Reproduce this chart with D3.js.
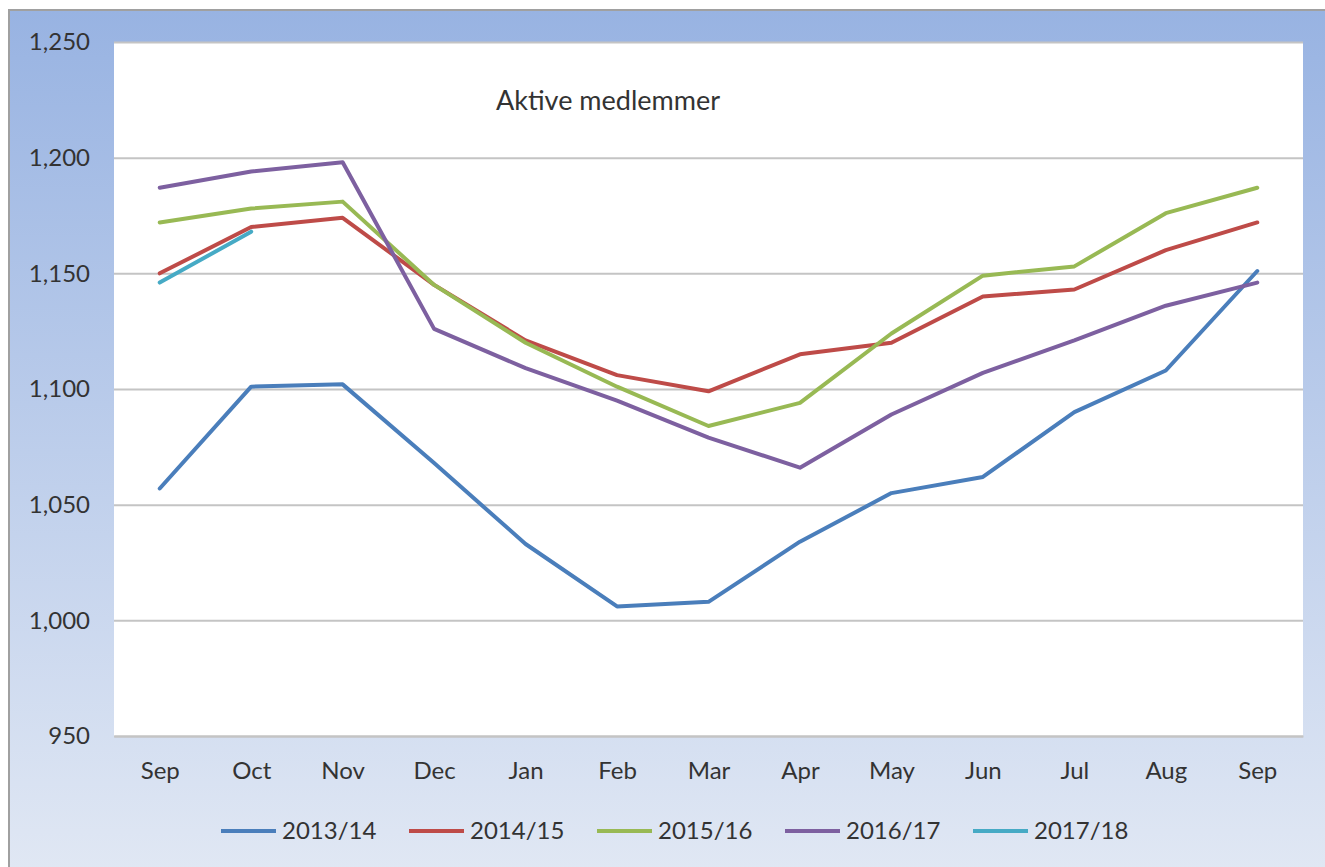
<!DOCTYPE html>
<html>
<head>
<meta charset="utf-8">
<script src="https://cdn.jsdelivr.net/npm/d3@7"></script>
<style>
  body { margin: 0; background: #fff; }
  svg text { font-family: Lato, "Open Sans", sans-serif; fill: #333; }
</style>
</head>
<body>
<svg id="chart"></svg>
<script>
var months = ["Sep", "Oct", "Nov", "Dec", "Jan", "Feb", "Mar", "Apr", "May", "Jun", "Jul", "Aug", "Sep"];
var yTicks = [950, 1000, 1050, 1100, 1150, 1200, 1250];

var s2013 = [1057, 1101, 1102, 1068, 1033, 1006, 1008, 1034, 1055, 1062, 1090, 1108, 1151];
var s2014 = [1150, 1170, 1174, 1145, 1121, 1106, 1099, 1115, 1120, 1140, 1143, 1160, 1172];
var s2015 = [1172, 1178, 1181, 1145, 1120, 1101, 1084, 1094, 1124, 1149, 1153, 1176, 1187];
var s2016 = [1187, 1194, 1198, 1126, 1109, 1095, 1079, 1066, 1089, 1107, 1121, 1136, 1146];
var s2017 = [1146, 1168];

var seriesNames = ["2013/14", "2014/15", "2015/16", "2016/17", "2017/18"];
var seriesColors = ["#4a7ebb", "#be4b48", "#98b954", "#7d60a0", "#46aac5"];
var seriesValues = [s2013, s2014, s2015, s2016, s2017];

var svg = d3.select("#chart")
      .attr("width", 1325)
      .attr("height", 867),
    margin = {top: 42, right: 22, bottom: 131, left: 114},
    width = 1325 - margin.left - margin.right,
    height = 867 - margin.top - margin.bottom;

// background gradient
var grad = svg.append("defs").append("linearGradient")
    .attr("id", "bg").attr("x1", 0).attr("y1", 0).attr("x2", 0).attr("y2", 1);
grad.append("stop").attr("offset", "0%").attr("stop-color", "#98b3e2");
grad.append("stop").attr("offset", "100%").attr("stop-color", "#e1e8f4");

svg.append("rect")
    .attr("x", 9).attr("y", 10)
    .attr("width", 1330).attr("height", 870)
    .attr("fill", "url(#bg)")
    .attr("stroke", "#a0a0a0")
    .attr("stroke-width", 2);

var x = d3.scalePoint().domain(d3.range(months.length)).range([0, width]).padding(0.5),
    y = d3.scaleLinear().domain([950, 1250]).range([height, 0]);

var g = svg.append("g")
    .attr("transform", "translate(" + margin.left + "," + margin.top + ")");

g.append("rect")
    .attr("width", width)
    .attr("height", height)
    .attr("fill", "#fff");

// y axis + gridlines
var yAxis = g.append("g")
    .call(d3.axisLeft(y).tickValues(yTicks).tickFormat(d3.format(",")).tickSize(-width).tickPadding(24));
yAxis.select(".domain").remove();
yAxis.selectAll("line").attr("stroke", "#c4c4c4").attr("stroke-width", 2);
yAxis.selectAll("text").style("font-size", "24px").attr("fill", "#333");

// x axis
var xAxis = g.append("g")
    .attr("transform", "translate(0," + height + ")")
    .call(d3.axisBottom(x).tickFormat(function(i) { return months[i]; }).tickSize(0).tickPadding(26));
xAxis.select(".domain").attr("stroke", "#c4c4c4").attr("stroke-width", 2);
xAxis.selectAll("text").style("font-size", "24px").attr("fill", "#333");

// title
g.append("text")
    .attr("x", x(5) - 9)
    .attr("y", 68)
    .attr("text-anchor", "middle")
    .style("font-size", "27px")
    .attr("fill", "#111")
    .text("Aktive medlemmer");

var line = d3.line()
    .x(function(d, i) { return x(i); })
    .y(function(d) { return y(d); });

seriesValues.forEach(function(vals, k) {
  g.append("path")
      .datum(vals)
      .attr("fill", "none")
      .attr("stroke", seriesColors[k])
      .attr("stroke-width", 4)
      .attr("stroke-linejoin", "round")
      .attr("stroke-linecap", "round")
      .attr("d", line);
});

// legend
var legend = svg.append("g").attr("transform", "translate(221,831)");
seriesNames.forEach(function(name, k) {
  var item = legend.append("g").attr("transform", "translate(" + (k * 188) + ",0)");
  item.append("line")
      .attr("x1", 0).attr("x2", 55)
      .attr("stroke", seriesColors[k])
      .attr("stroke-width", 4);
  item.append("text")
      .attr("x", 61)
      .attr("dy", "0.35em")
      .style("font-size", "24px")
      .text(name);
});
</script>
</body>
</html>
